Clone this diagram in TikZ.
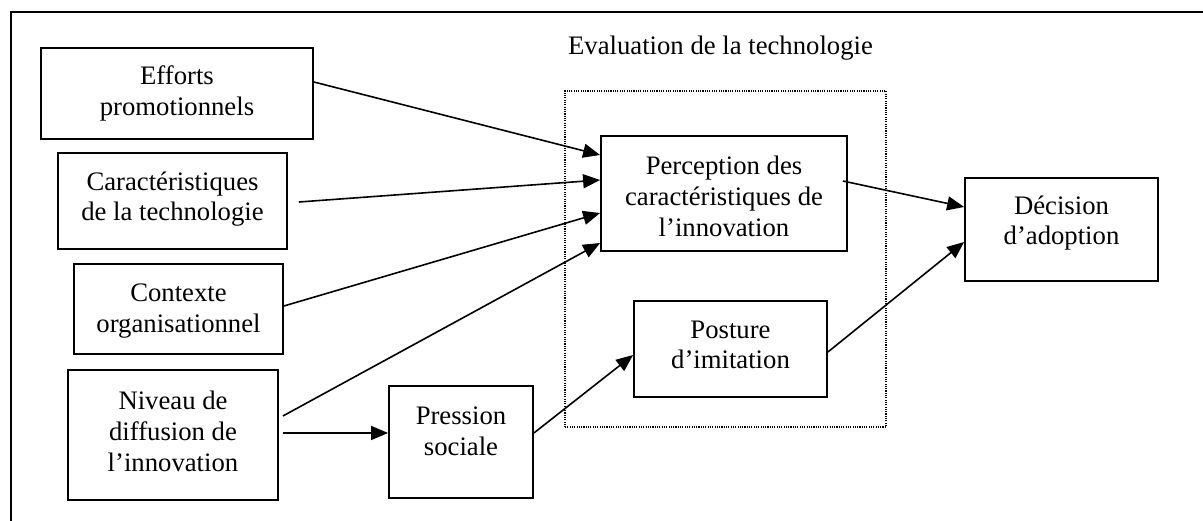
\documentclass[tikz,border=0pt]{standalone}
\usepackage{fontspec}
\setmainfont{Liberation Serif}
\usetikzlibrary{arrows.meta}
\tikzset{
  box/.style={draw, line width=1.8pt, inner sep=0pt},
  lbl/.style={align=center, font=\fontsize{26.7}{30.7}\selectfont},
  conn/.style={line width=1.6pt, -{Triangle[length=17pt,width=14pt]}},
  frame/.style={line width=2pt},
  evalbox/.style={draw, line width=1.1pt, dash pattern=on 1.1pt off 1.2pt, inner sep=0pt}
}
\begin{document}
\begin{tikzpicture}[x=1pt,y=-1pt]
\useasboundingbox (0,0) rectangle (1203,521);
% outer frame (open at right and bottom)
\coordinate (fbl) at (10.5,521);
\coordinate (ftl) at (10.5,12.5);
\coordinate (ftr) at (1203,12.5);
\draw[frame] (fbl) -- (ftl) -- (ftr);
% evaluation frame
\node[evalbox, minimum width=321pt, minimum height=336pt] (eval) at (725.5,259) {};
\node[lbl, anchor=base] (evaltitle) at (720.5,55) {Evaluation de la technologie};
% boxes
\node[box, minimum width=272pt, minimum height=91pt,
  label={[lbl, yshift=0pt]center:Efforts\\promotionnels}] (eff) at (177,93.5) {};
\node[box, minimum width=229pt, minimum height=96pt,
  label={[lbl, yshift=2pt]center:Caractéristiques\\de la technologie}] (car) at (172.5,201) {};
\node[box, minimum width=209pt, minimum height=90pt,
  label={[lbl, yshift=-2pt]center:Contexte\\organisationnel}] (ctx) at (178.5,309) {};
\node[box, minimum width=210pt, minimum height=130pt,
  label={[lbl, yshift=3.5pt]center:Niveau de\\diffusion de\\l’innovation}] (niv) at (173,435) {};
\node[box, minimum width=144pt, minimum height=112pt,
  label={[lbl, yshift=11pt]center:Pression\\sociale}] (pres) at (461,442) {};
\node[box, minimum width=193pt, minimum height=96pt,
  label={[lbl, yshift=4pt]center:Posture\\d’imitation}] (pos) at (730.5,349) {};
\node[box, minimum width=246pt, minimum height=115pt,
  label={[lbl, yshift=-3pt]center:Perception des\\caractéristiques de\\l’innovation}] (per) at (724,193.5) {};
\node[box, minimum width=193pt, minimum height=103pt,
  label={[lbl, yshift=6.5pt]center:Décision\\d’adoption}] (dec) at (1061.5,229.5) {};
% connectors
\draw[conn] ([yshift=11.5pt]eff.east) -- ([yshift=38.5pt]per.west);
\draw[conn] ([xshift=11pt,yshift=-1pt]car.east) -- ([yshift=13.5pt]per.west);
\draw[conn] ([yshift=3pt]ctx.east) -- ([yshift=-19.5pt]per.west);
\draw[conn] ([xshift=4pt,yshift=19pt]niv.east) -- ([yshift=-49.5pt]per.west);
\draw[conn] ([xshift=4pt,yshift=2pt]niv.east) -- ([yshift=9pt]pres.west);
\draw[conn] ([yshift=9pt]pres.east) -- ([yshift=-6pt]pos.west);
\draw[conn] ([xshift=-5pt,yshift=12.5pt]per.east) -- ([yshift=22.5pt]dec.west);
\draw[conn] ([yshift=-3pt]pos.east) -- ([yshift=-12.5pt]dec.west);
\end{tikzpicture}
\end{document}
